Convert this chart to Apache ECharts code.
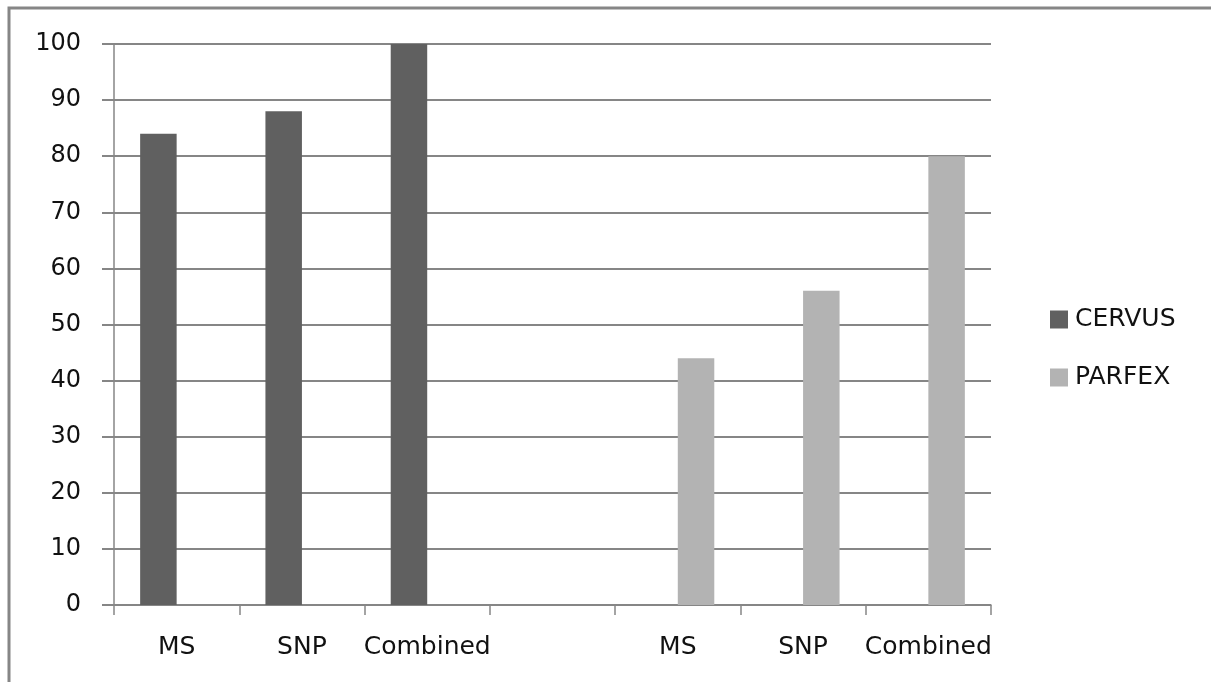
<!DOCTYPE html>
<html>
<head>
<meta charset="utf-8">
<script src="https://cdn.jsdelivr.net/npm/echarts@6/dist/echarts.min.js"></script>
<style>
    html, body { margin: 0; padding: 0; background: #fff; }
    #main { width: 1211px; height: 682px; }
</style>
</head>
<body>
<div id="main"></div>
<script>
// categories along the x axis (4th slot is the empty gap between the two groups)
var categories = ['MS', 'SNP', 'Combined', '', 'MS', 'SNP', 'Combined'];
var cervusValues = [84, 88, 100, null, null, null, null];
var parfexValues = [null, null, null, null, 44, 56, 80];
var yTicks = [0, 10, 20, 30, 40, 50, 60, 70, 80, 90, 100];

var lineColor = '#868686';
var textFont = 'DejaVu Sans';

var myChart = echarts.init(document.getElementById('main'));

var option = {
    backgroundColor: '#ffffff',
    animation: false,
    // outer frame, only top and left edges fall inside the picture
    graphic: [{
        type: 'rect',
        shape: { x: 9, y: 8, width: 1400, height: 900 },
        style: { fill: 'none', stroke: lineColor, lineWidth: 3 },
        silent: true
    }],
    grid: {
        left: 114,
        top: 44,
        right: 220,
        bottom: 77
    },
    legend: {
        orient: 'vertical',
        left: 1045,
        top: 302,
        itemWidth: 18,
        itemHeight: 18,
        itemGap: 33,
        icon: 'rect',
        textStyle: { fontFamily: textFont, fontSize: 25, color: '#111', padding: [0, 0, 0, 2] },
        data: ['CERVUS', 'PARFEX']
    },
    xAxis: {
        type: 'category',
        data: categories,
        axisLine: { show: true, lineStyle: { color: lineColor, width: 1.5 } },
        axisTick: { show: true, length: 10, lineStyle: { color: lineColor, width: 1.5 } },
        axisLabel: {
            interval: 0,
            margin: 30,
            fontFamily: textFont,
            fontSize: 25,
            color: '#111'
        },
        splitLine: { show: false }
    },
    yAxis: {
        type: 'value',
        min: yTicks[0],
        max: yTicks[yTicks.length - 1],
        interval: 10,
        axisLine: { show: true, lineStyle: { color: lineColor, width: 1.5 } },
        axisTick: { show: true, length: 12, lineStyle: { color: lineColor, width: 2 } },
        axisLabel: {
            margin: 33,
            fontFamily: textFont,
            fontSize: 24,
            color: '#111'
        },
        splitLine: { show: true, lineStyle: { color: lineColor, width: 2 } }
    },
    series: [{
        name: 'CERVUS',
        type: 'bar',
        data: cervusValues,
        barWidth: 36.5,
        barGap: '0%',
        itemStyle: { color: '#606060' }
    }, {
        name: 'PARFEX',
        type: 'bar',
        data: parfexValues,
        barWidth: 36.5,
        barGap: '0%',
        itemStyle: { color: '#b3b3b3' }
    }]
};

myChart.setOption(option);
</script>
</body>
</html>
